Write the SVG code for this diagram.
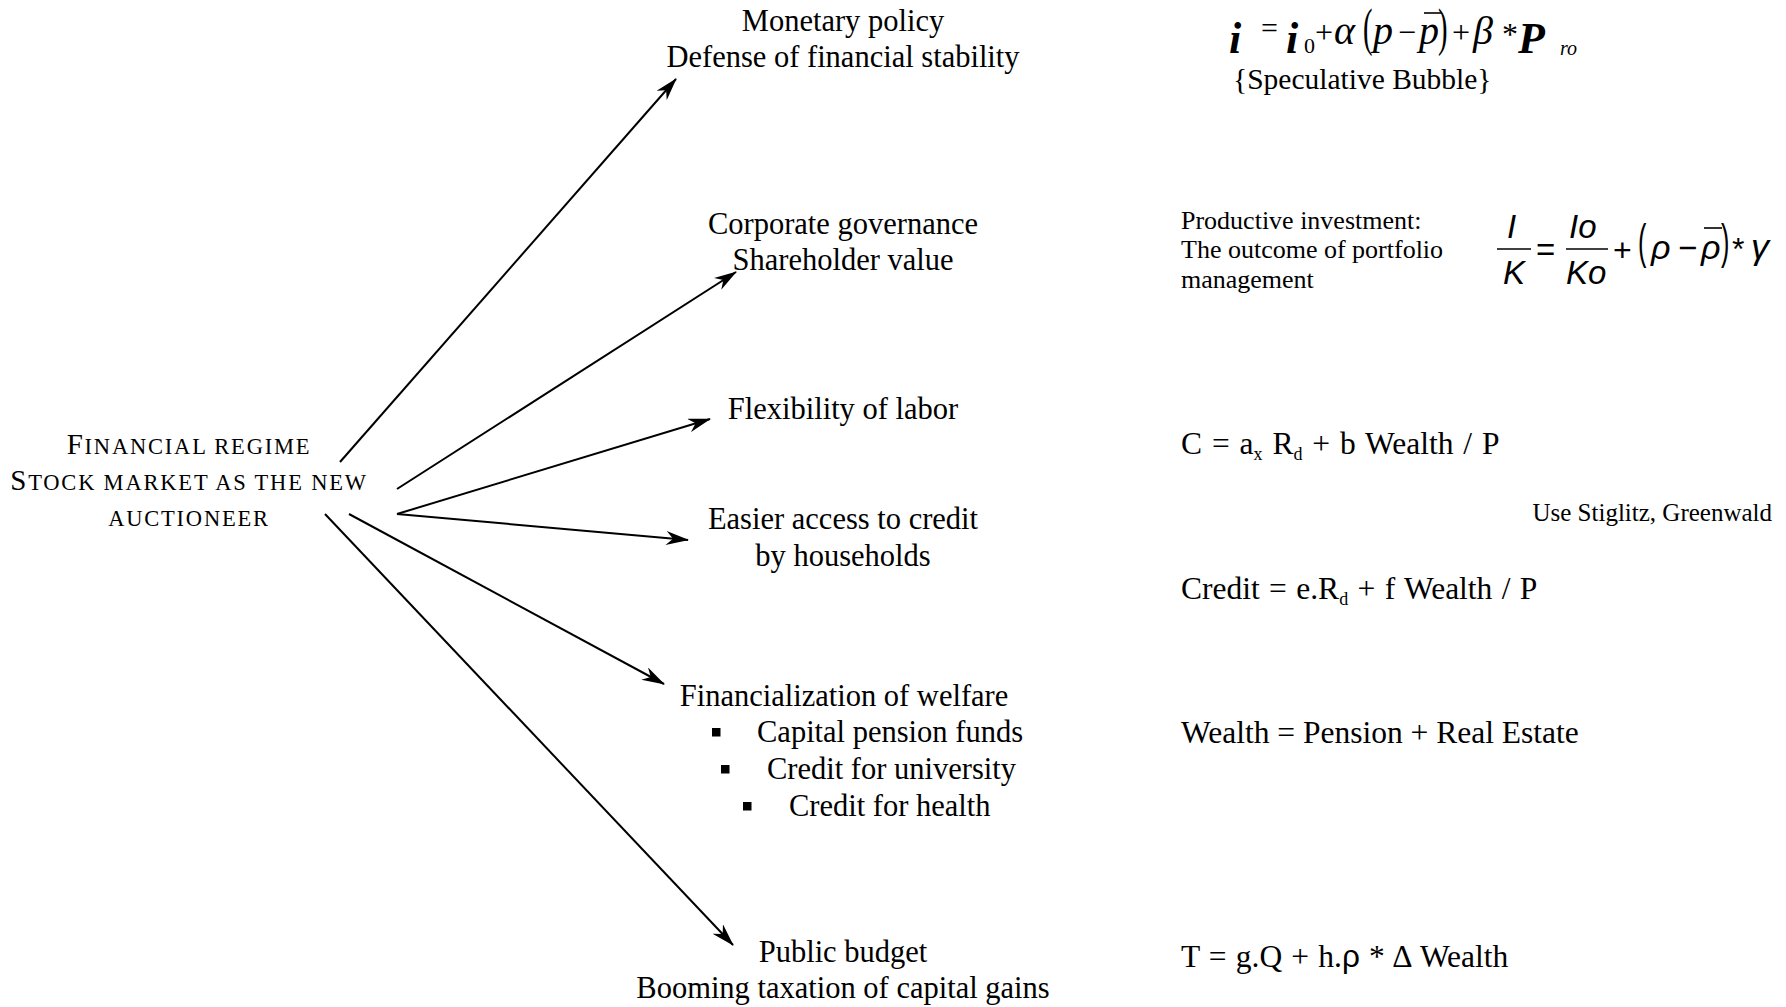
<svg xmlns="http://www.w3.org/2000/svg" width="1786" height="1007" viewBox="0 0 1786 1007">
<defs>
<style>
text{font-family:"Liberation Serif","Times New Roman",serif;fill:#000}
.lbl{font-size:30.5px;text-anchor:middle}
.lft{font-size:30.5px}
.sc{font-size:29px;text-anchor:middle;letter-spacing:1.8px}
.scs{font-size:22.5px}
.f{font-size:31.5px}
.sub{font-size:18px}
.small{font-size:26px}
.note{font-size:25px;text-anchor:end}
.it{font-style:italic}
.bi{font-style:italic;font-weight:bold}
.sans{font-family:"Liberation Sans",Arial,sans-serif}
.conn line{stroke:#000;stroke-width:2;fill:none;marker-end:url(#ah)}
.bar{stroke:#000;stroke-width:1.6}
.bul{fill:#000}
</style>
<marker id="ah" viewBox="0 -7 23 14" markerWidth="23" markerHeight="14" refX="22" refY="0" orient="auto" markerUnits="userSpaceOnUse">
<path d="M0,-7 L23,0 L0,7 L7,0 Z" fill="#000"/>
</marker>
</defs>
<rect width="1786" height="1007" fill="#fff"/>

<g id="connectors" class="conn">
<line x1="340" y1="462" x2="676" y2="79"/>
<line x1="397" y1="489" x2="736" y2="272"/>
<line x1="397" y1="514" x2="710" y2="419"/>
<line x1="397" y1="514" x2="688" y2="540"/>
<line x1="349" y1="514" x2="664" y2="684"/>
<line x1="325" y1="514" x2="733" y2="945"/>
</g>

<g id="node-financial-regime">
<text class="sc" x="189" y="454">F<tspan class="scs">INANCIAL REGIME</tspan></text>
<text class="sc" x="189" y="490">S<tspan class="scs">TOCK MARKET AS THE NEW</tspan></text>
<text class="sc" x="189" y="526"><tspan class="scs">AUCTIONEER</tspan></text>
</g>

<g id="node-monetary">
<text class="lbl" x="843" y="31">Monetary policy</text>
<text class="lbl" x="843" y="67">Defense of financial stability</text>
</g>

<g id="node-corporate">
<text class="lbl" x="843" y="234">Corporate governance</text>
<text class="lbl" x="843" y="270">Shareholder value</text>
</g>

<g id="node-flexibility">
<text class="lbl" x="843" y="419">Flexibility of labor</text>
</g>

<g id="node-credit">
<text class="lbl" x="843" y="529">Easier access to credit</text>
<text class="lbl" x="843" y="566">by households</text>
</g>

<g id="node-welfare">
<text class="lbl" x="844" y="706">Financialization of welfare</text>
<rect class="bul" x="712" y="728" width="8.5" height="8.5"/>
<text class="lft" x="757" y="742">Capital pension funds</text>
<rect class="bul" x="721" y="765" width="8.5" height="8.5"/>
<text class="lft" x="767" y="779">Credit for university</text>
<rect class="bul" x="743" y="802" width="8.5" height="8.5"/>
<text class="lft" x="789" y="816">Credit for health</text>
</g>

<g id="node-public">
<text class="lbl" x="843" y="962">Public budget</text>
<text class="lbl" x="843" y="998">Booming taxation of capital gains</text>
</g>

<g id="formula-interest">
<text class="bi" x="1229" y="53" style="font-size:44px">i</text>
<text x="1261" y="38" style="font-size:30px">=</text>
<text class="bi" x="1286" y="53" style="font-size:44px">i</text>
<text x="1304" y="53" style="font-size:22px">0</text>
<text x="1315" y="43" style="font-size:32px">+</text>
<text class="it" x="1334" y="44" style="font-size:40px">α</text>
<text transform="translate(1363,45) scale(0.65,1.2)" style="font-size:44px">(</text>
<text class="it" x="1373" y="44" style="font-size:40px">p</text>
<text x="1398" y="43" style="font-size:32px">−</text>
<text class="it" x="1419" y="44" style="font-size:40px">p</text>
<line class="bar" x1="1424" y1="13" x2="1442" y2="13"/>
<text transform="translate(1438,45) scale(0.65,1.2)" style="font-size:44px">)</text>
<text x="1452" y="43" style="font-size:32px">+</text>
<text class="it" x="1473" y="44" style="font-size:40px">β</text>
<text x="1502" y="45" style="font-size:32px">*</text>
<text class="bi" x="1518" y="53" style="font-size:44px">P</text>
<text class="it" x="1560" y="55" style="font-size:20px">ro</text>
<text x="1233" y="89" style="font-size:29.5px">{Speculative Bubble}</text>
</g>

<g id="formula-investment">
<text class="small" x="1181" y="229">Productive investment:</text>
<text class="small" x="1181" y="258">The outcome of portfolio</text>
<text class="small" x="1181" y="288">management</text>
<text class="sans it" x="1507" y="238" style="font-size:33px">I</text>
<line class="bar" x1="1497" y1="249" x2="1531" y2="249"/>
<text class="sans it" x="1503" y="284" style="font-size:33px">K</text>
<text class="sans" x="1536" y="261" style="font-size:33px">=</text>
<text class="sans it" x="1569" y="238" style="font-size:33px">Io</text>
<line class="bar" x1="1566" y1="249" x2="1608" y2="249"/>
<text class="sans it" x="1566" y="284" style="font-size:33px">Ko</text>
<text class="sans" x="1613" y="261" style="font-size:32px">+</text>
<text class="sans" transform="translate(1638,258) scale(0.7,1.35)" style="font-size:36px">(</text>
<text class="sans it" x="1651" y="259" style="font-size:34px">ρ</text>
<text class="sans" x="1678" y="259" style="font-size:33px">−</text>
<text class="sans it" x="1701" y="259" style="font-size:34px">ρ</text>
<line class="bar" x1="1704" y1="228" x2="1722" y2="228"/>
<text class="sans" transform="translate(1721,258) scale(0.7,1.35)" style="font-size:36px">)</text>
<text class="sans" x="1732" y="260" style="font-size:32px">*</text>
<text class="sans it" x="1751" y="259" style="font-size:36px">γ</text>
</g>

<g id="formula-consumption">
<text class="f" x="1181" y="454" style="word-spacing:2px">C = a<tspan class="sub" dy="6">x</tspan><tspan dy="-6"> R</tspan><tspan class="sub" dy="6">d</tspan><tspan dy="-6"> + b Wealth / P</tspan></text>
<text class="note" x="1772" y="521">Use Stiglitz, Greenwald</text>
<text class="f" x="1181" y="599" style="word-spacing:1.5px">Credit = e.R<tspan class="sub" dy="6">d</tspan><tspan dy="-6"> + f Wealth / P</tspan></text>
</g>

<g id="formula-wealth">
<text class="f" x="1181" y="743">Wealth = Pension + Real Estate</text>
</g>

<g id="formula-tax">
<text class="f" x="1181" y="967" style="word-spacing:1.3px">T = g.Q + h.<tspan class="sans">ρ</tspan> * Δ Wealth</text>
</g>
</svg>
